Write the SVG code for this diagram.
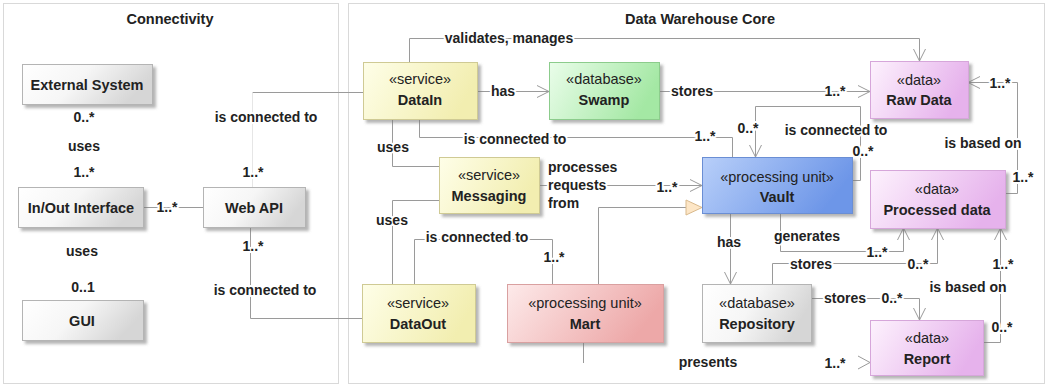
<svg xmlns="http://www.w3.org/2000/svg" width="1049" height="386" viewBox="0 0 1049 386">
<defs>
<linearGradient id="gGray" x1="0" y1="0" x2="1" y2="0.3"><stop offset="0" stop-color="#ffffff"/><stop offset="0.5" stop-color="#f6f6f6"/><stop offset="1" stop-color="#d6d6d6"/></linearGradient>
<linearGradient id="gSvc" x1="0" y1="0" x2="1" y2="0.3"><stop offset="0" stop-color="#fefee8"/><stop offset="1" stop-color="#f2eeb0"/></linearGradient>
<linearGradient id="gDb" x1="0" y1="0" x2="1" y2="0.3"><stop offset="0" stop-color="#eafdea"/><stop offset="1" stop-color="#a4e8a4"/></linearGradient>
<linearGradient id="gData" x1="0" y1="0" x2="1" y2="0.3"><stop offset="0" stop-color="#fdf2fd"/><stop offset="1" stop-color="#e6b2ec"/></linearGradient>
<linearGradient id="gVault" x1="0" y1="0" x2="1" y2="0.3"><stop offset="0" stop-color="#b8cff9"/><stop offset="1" stop-color="#6d96e8"/></linearGradient>
<linearGradient id="gMart" x1="0" y1="0" x2="1" y2="0.3"><stop offset="0" stop-color="#fdeaea"/><stop offset="1" stop-color="#eda8a8"/></linearGradient>
<filter id="sh" x="-10%" y="-10%" width="130%" height="140%"><feDropShadow dx="3" dy="3" stdDeviation="1.5" flood-color="#777" flood-opacity="0.55"/></filter>
<marker id="arr" markerUnits="userSpaceOnUse" markerWidth="14" markerHeight="14" viewBox="0 0 14 14" refX="13" refY="7" orient="auto">
<path d="M1,1 L13,7 L1,13" fill="none" stroke="#9a9a9a" stroke-width="1"/>
</marker>
<marker id="tri" markerUnits="userSpaceOnUse" markerWidth="18" markerHeight="18" viewBox="0 0 18 18" refX="17" refY="9" orient="auto">
<path d="M1,1.5 L17,9 L1,16.5 Z" fill="#fde6c6" stroke="#d9b98c" stroke-width="1"/>
</marker>
</defs>
<style>
.frame{fill:#ffffff;stroke:#d9d9d9;stroke-width:1}
.title{font-family:"Liberation Sans",Arial,sans-serif;font-size:14.5px;font-weight:bold;fill:#222;text-anchor:middle}
.box{filter:url(#sh);stroke-width:1}
.gray{fill:url(#gGray);stroke:#b4b4b4}
.svc{fill:url(#gSvc);stroke:#cfca94}
.db{fill:url(#gDb);stroke:#8ccc8c}
.data{fill:url(#gData);stroke:#d6a6da}
.vault{fill:url(#gVault);stroke:#6a8ed4}
.mart{fill:url(#gMart);stroke:#d9a0a0}
.st{font-family:"Liberation Sans",Arial,sans-serif;font-size:14.5px;fill:#222;text-anchor:middle}
.nm{font-family:"Liberation Sans",Arial,sans-serif;font-size:14.5px;font-weight:bold;fill:#222;text-anchor:middle}
.ln{fill:none;stroke:#9a9a9a;stroke-width:1}
.faint{fill:none;stroke:#e6e6e6;stroke-width:1}
.lb{font-family:"Liberation Sans",Arial,sans-serif;font-size:14px;font-weight:bold;fill:#222;text-anchor:middle;paint-order:stroke;stroke:#ffffff;stroke-width:4px;stroke-linejoin:round}
.lbl{text-anchor:start}
</style>

<g id="frames">
<rect class="frame" x="3.5" y="3.5" width="335" height="380"/>
<rect class="frame" x="348.5" y="3.5" width="696" height="380"/>
<text class="title" x="170" y="24">Connectivity</text>
<text class="title" x="700" y="24">Data Warehouse Core</text>
</g>

<g id="connectors">
<path class="ln" d="M143,207.5 H203"/>
<path class="ln" d="M252.5,92.5 H363"/>
<path class="faint" d="M252.5,92.5 V187"/>
<path class="ln" d="M250.5,227 V318.5 H362"/>
<path class="ln" marker-end="url(#arr)" d="M409.5,62 V38.5 H919.5 V61"/>
<path class="ln" marker-end="url(#arr)" d="M477,91.5 H549"/>
<path class="ln" marker-end="url(#arr)" d="M659,91.5 H870"/>
<path class="ln" d="M419.5,119 V137.5 H732.5 V157"/>
<path class="ln" d="M392.5,119 V166.5 H439"/>
<path class="ln" marker-end="url(#arr)" d="M539,185.5 H702"/>
<path class="ln" d="M392.5,284 V200.5 H439"/>
<path class="ln" d="M414.5,284 V239.5 H552.5 V284"/>
<path class="ln" marker-end="url(#tri)" d="M598.5,284 V207.5 H702"/>
<path class="ln" marker-end="url(#arr)" d="M852,180.5 H860.5 V106.5 H755.5 V157"/>
<path class="ln" marker-end="url(#arr)" d="M1005,193.5 H1017.5 V82.5 H968"/>
<path class="ln" marker-end="url(#arr)" d="M730.5,213 V284"/>
<path class="ln" marker-end="url(#arr)" d="M780.5,213 V251.5 H903.5 V228"/>
<path class="ln" marker-end="url(#arr)" d="M772.5,284 V263.5 H937.5 V228"/>
<path class="ln" marker-end="url(#arr)" d="M811,298.5 H919.5 V320"/>
<path class="ln" marker-end="url(#arr)" d="M983,342.5 H1000.5 V228"/>
<path class="ln" d="M583.5,342 V363"/>
<path class="ln" d="M858,356 L870,362.5 L858,369"/>
</g>

<g id="labels">
<text class="lb" x="84" y="122">0..*</text>
<text class="lb" x="84" y="151">uses</text>
<text class="lb" x="84" y="177">1..*</text>
<text class="lb" x="167" y="212">1..*</text>
<text class="lb" x="253" y="177">1..*</text>
<text class="lb" x="266" y="122">is connected to</text>
<text class="lb" x="253" y="251">1..*</text>
<text class="lb" x="82" y="256">uses</text>
<text class="lb" x="83" y="292">0..1</text>
<text class="lb" x="265" y="295">is connected to</text>
<text class="lb" x="509" y="43">validates, manages</text>
<text class="lb" x="503" y="96">has</text>
<text class="lb" x="692" y="96">stores</text>
<text class="lb" x="835" y="96">1..*</text>
<text class="lb" x="748" y="133">0..*</text>
<text class="lb" x="836" y="135">is connected to</text>
<text class="lb" x="863" y="156">0..*</text>
<text class="lb" x="515" y="144">is connected to</text>
<text class="lb" x="705" y="141">1..*</text>
<text class="lb" x="393" y="152">uses</text>
<text class="lb lbl" x="548" y="172">processes</text>
<text class="lb lbl" x="548" y="190">requests</text>
<text class="lb lbl" x="548" y="208">from</text>
<text class="lb" x="667" y="192">1..*</text>
<text class="lb" x="392" y="225">uses</text>
<text class="lb" x="477" y="242">is connected to</text>
<text class="lb" x="554" y="262">1..*</text>
<text class="lb" x="729" y="247">has</text>
<text class="lb" x="807" y="241">generates</text>
<text class="lb" x="877" y="257">1..*</text>
<text class="lb" x="811" y="269">stores</text>
<text class="lb" x="918" y="269">0..*</text>
<text class="lb" x="1003" y="269">1..*</text>
<text class="lb" x="968" y="292">is based on</text>
<text class="lb" x="845" y="303">stores</text>
<text class="lb" x="892" y="303">0..*</text>
<text class="lb" x="1002" y="332">0..*</text>
<text class="lb" x="708" y="367">presents</text>
<text class="lb" x="835" y="368">1..*</text>
<text class="lb" x="1000" y="88">1..*</text>
<text class="lb" x="983" y="148">is based on</text>
<text class="lb" x="1023" y="182">1..*</text>
</g>

<g id="n-external">
<rect class="box gray" x="22.5" y="64.5" width="130" height="40"/>
<text class="nm" x="87" y="90">External System</text>
</g>
<g id="n-io">
<rect class="box gray" x="18.5" y="187.5" width="125" height="40"/>
<text class="nm" x="81" y="213">In/Out Interface</text>
</g>
<g id="n-webapi">
<rect class="box gray" x="203.5" y="187.5" width="102" height="40"/>
<text class="nm" x="254" y="213">Web API</text>
</g>
<g id="n-gui">
<rect class="box gray" x="22.5" y="300.5" width="121" height="40"/>
<text class="nm" x="82" y="326">GUI</text>
</g>
<g id="n-datain">
<rect class="box svc" x="363.5" y="62.5" width="114" height="57"/>
<text class="st" x="420" y="84">«service»</text>
<text class="nm" x="420" y="105">DataIn</text>
</g>
<g id="n-swamp">
<rect class="box db" x="549.5" y="62.5" width="110" height="57"/>
<text class="st" x="604" y="84">«database»</text>
<text class="nm" x="604" y="105">Swamp</text>
</g>
<g id="n-rawdata">
<rect class="box data" x="870.5" y="61.5" width="98" height="57"/>
<text class="st" x="919" y="85">«data»</text>
<text class="nm" x="919" y="105">Raw Data</text>
</g>
<g id="n-messaging">
<rect class="box svc" x="439.5" y="157.5" width="100" height="56"/>
<text class="st" x="489" y="180">«service»</text>
<text class="nm" x="489" y="201">Messaging</text>
</g>
<g id="n-vault">
<rect class="box vault" x="702.5" y="157.5" width="150" height="56"/>
<text class="st" x="777" y="182">«processing unit»</text>
<text class="nm" x="777" y="202">Vault</text>
</g>
<g id="n-processed">
<rect class="box data" x="870.5" y="170.5" width="135" height="58"/>
<text class="st" x="937" y="194">«data»</text>
<text class="nm" x="937" y="215">Processed data</text>
</g>
<g id="n-dataout">
<rect class="box svc" x="362.5" y="284.5" width="113" height="58"/>
<text class="st" x="418" y="308">«service»</text>
<text class="nm" x="418" y="329">DataOut</text>
</g>
<g id="n-mart">
<rect class="box mart" x="507.5" y="284.5" width="156" height="58"/>
<text class="st" x="585" y="308">«processing unit»</text>
<text class="nm" x="585" y="329">Mart</text>
</g>
<g id="n-repository">
<rect class="box gray" x="702.5" y="284.5" width="109" height="58"/>
<text class="st" x="757" y="308">«database»</text>
<text class="nm" x="757" y="329">Repository</text>
</g>
<g id="n-report">
<rect class="box data" x="870.5" y="320.5" width="113" height="55"/>
<text class="st" x="927" y="343">«data»</text>
<text class="nm" x="927" y="364">Report</text>
</g>
</svg>
